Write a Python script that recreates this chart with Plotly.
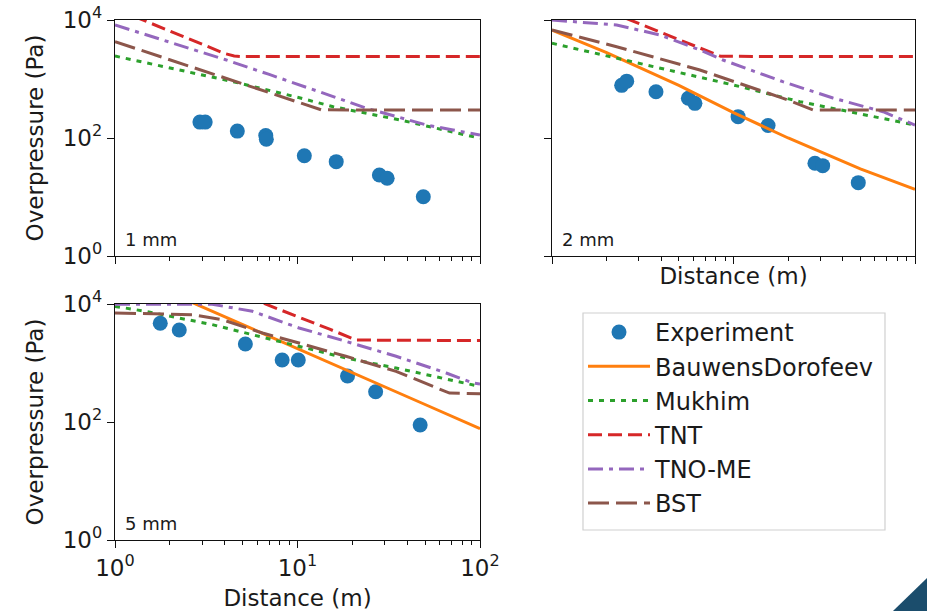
import plotly.graph_objects as go

# ---------------- data ----------------
# Panel 1 (1 mm)
exp1_x = [2.92, 3.12, 4.68, 6.7, 6.75, 10.9, 16.3, 28.1, 31.0, 48.9]
exp1_y = [186, 186, 131, 110, 95, 50, 39.7, 23.6, 20.8, 10.1]
muk1_x = [1, 2, 4.45, 10, 15.7, 36.5, 70, 100]
muk1_y = [2450, 1540, 900, 490, 339, 202, 127, 99]
tnt1_x = [1, 1.5, 2, 3, 4, 4.5, 5, 100]
tnt1_y = [15600, 9330, 6490, 3900, 2700, 2450, 2400, 2400]
tno1_x = [1, 2, 4, 7, 10, 15, 24, 35, 51, 70, 100]
tno1_y = [8230, 4200, 2140, 1195, 822, 528, 318, 230, 166, 138, 112]
bst1_x = [1, 2, 4, 8, 13.5, 100]
bst1_y = [4300, 2100, 1040, 510, 300, 298]

# Panel 2 (2 mm)
exp2_x = [2.42, 2.58, 3.74, 5.64, 6.13, 10.6, 15.5, 28.1, 31.0, 48.7]
exp2_y = [780, 920, 609, 471, 387, 230, 163, 37.3, 34, 17.5]
bd2_x = [1, 2, 5, 10, 20, 50, 100]
bd2_y = [6760, 2800, 780, 270, 100, 30, 13.5]
muk2_x = [1, 2.27, 5.28, 10, 23.2, 43.9, 100]
muk2_y = [4030, 2240, 1250, 791, 413, 279, 166]
tnt2_x = [1, 2.7, 5, 7.5, 8.5, 100]
tnt2_y = [34000, 10000, 4640, 2800, 2420, 2400]
tno2_x = [1, 2.27, 3.94, 6.53, 8.75, 18.7, 35.3, 66.7, 100]
tno2_y = [10000, 8230, 5570, 3100, 2100, 900, 476, 279, 166]
bst2_x = [1, 2.27, 6.53, 18.8, 27.5, 100]
bst2_y = [6760, 3530, 1420, 471, 298, 298]

# Panel 3 (5 mm)
exp3_x = [1.77, 2.25, 5.18, 8.24, 10.1, 18.8, 26.8, 47]
exp3_y = [4710, 3625, 2100, 1125, 1125, 603, 326, 89]
bd3_x = [1, 2, 5, 10, 20, 50, 100]
bd3_y = [39600, 15500, 4580, 1750, 684, 198, 77]
muk3_x = [1, 1.47, 2.24, 3.41, 7.29, 18.4, 34.7, 91.6, 100]
muk3_y = [9120, 7520, 5790, 4470, 2480, 1215, 822, 419, 400]
tnt3_x = [1, 3, 6.7, 10, 15, 21, 100]
tnt3_y = [100000, 26700, 10000, 6140, 3740, 2450, 2400]
tno3_x = [1, 3.41, 5.66, 10.2, 18.4, 34.7, 65.3, 91.6, 100]
tno3_y = [9900, 9900, 7520, 3920, 2330, 1300, 677, 458, 440]
bst3_x = [1, 2.65, 3.87, 6.43, 10.2, 18.4, 34.7, 55.2, 68.1, 100]
bst3_y = [7040, 6590, 5420, 3220, 2180, 1300, 723, 403, 309, 300]

panel_labels = ["1 mm", "2 mm", "5 mm"]
x_ticks = [1, 10, 100]
x_ticktext = ["10<sup>0</sup>", "10<sup>1</sup>", "10<sup>2</sup>"]
x_minor = [2, 3, 4, 5, 6, 7, 8, 9, 20, 30, 40, 50, 60, 70, 80, 90]
y_ticks = [1, 100, 10000]
y_ticktext = ["10<sup>0</sup>", "10<sup>2</sup>", "10<sup>4</sup>"]

# ---------------- styles ----------------
FONT = "DejaVu Sans"
C_EXP = "#1f77b4"
STY = {
    "BauwensDorofeev": dict(color="#ff7f0e", dash="solid", rank=2),
    "Mukhim": dict(color="#2ca02c", dash="5px,6px", rank=3),
    "TNT": dict(color="#d62728", dash="14px,6px", rank=4),
    "TNO-ME": dict(color="#9467bd", dash="15px,6px,4px,6px", rank=5),
    "BST": dict(color="#8c564b", dash="21px,7px", rank=6),
}

panels = [
    dict(xa="x", ya="y", exp=(exp1_x, exp1_y),
         models=[("Mukhim", muk1_x, muk1_y), ("TNT", tnt1_x, tnt1_y),
                 ("TNO-ME", tno1_x, tno1_y), ("BST", bst1_x, bst1_y)]),
    dict(xa="x2", ya="y2", exp=(exp2_x, exp2_y),
         models=[("BauwensDorofeev", bd2_x, bd2_y), ("Mukhim", muk2_x, muk2_y),
                 ("TNT", tnt2_x, tnt2_y), ("TNO-ME", tno2_x, tno2_y),
                 ("BST", bst2_x, bst2_y)]),
    dict(xa="x3", ya="y3", exp=(exp3_x, exp3_y),
         models=[("BauwensDorofeev", bd3_x, bd3_y), ("Mukhim", muk3_x, muk3_y),
                 ("TNT", tnt3_x, tnt3_y), ("TNO-ME", tno3_x, tno3_y),
                 ("BST", bst3_x, bst3_y)]),
]

fig = go.Figure()
for i, p in enumerate(panels):
    show = (i == 2)
    fig.add_trace(go.Scatter(
        x=p["exp"][0], y=p["exp"][1], mode="markers", name="Experiment",
        marker=dict(color=C_EXP, size=15), xaxis=p["xa"], yaxis=p["ya"],
        showlegend=show, legendgroup="Experiment", legendrank=1))
    for name, mx, my in p["models"]:
        s = STY[name]
        fig.add_trace(go.Scatter(
            x=mx, y=my, mode="lines", name=name,
            line=dict(color=s["color"], dash=s["dash"], width=3),
            xaxis=p["xa"], yaxis=p["ya"], showlegend=show,
            legendgroup=name, legendrank=s["rank"]))

W, H = 927, 611
dom_x_left = [115 / W, 480 / W]
dom_x_right = [552 / W, 915 / W]
dom_y_top = [1 - 256 / H, 1 - 20 / H]
dom_y_bot = [1 - 540 / H, 1 - 304 / H]

tickfont = dict(family=FONT, size=23, color="#1a1a1a")
titlefont = dict(family=FONT, size=23, color="#1a1a1a")


def xax(domain, anchor, labels, title, standoff=4):
    d = dict(type="log", range=[0, 2], domain=domain, anchor=anchor,
             automargin=False,
             showline=True, linecolor="#111", linewidth=1.4, mirror=True,
             ticks="outside", ticklen=7, tickwidth=1.4, tickcolor="#111",
             tickvals=x_ticks, ticktext=x_ticktext, showticklabels=labels,
             tickfont=tickfont, showgrid=False, zeroline=False,
             minor=dict(tickvals=x_minor, ticks="outside", ticklen=4,
                        tickwidth=1.1, tickcolor="#111", showgrid=False))
    if title:
        d["title"] = dict(text="Distance (m)", font=titlefont, standoff=standoff)
    return d


def yax(domain, anchor, labels, title):
    d = dict(type="log", range=[0, 4], domain=domain, anchor=anchor,
             automargin=False,
             showline=True, linecolor="#111", linewidth=1.4, mirror=True,
             ticks="outside", ticklen=7, tickwidth=1.4, tickcolor="#111",
             tickvals=y_ticks, ticktext=y_ticktext, showticklabels=labels,
             tickfont=tickfont, showgrid=False, zeroline=False)
    if title:
        d["title"] = dict(text="Overpressure (Pa)", font=titlefont, standoff=12)
    return d


# legend frame (matplotlib-like box)
LEG_X0, LEG_X1, LEG_Y0, LEG_Y1 = 583, 885, 313, 530

fig.update_layout(
    width=W, height=H, autosize=False,
    margin=dict(l=0, r=0, t=0, b=0, pad=0, autoexpand=False),
    paper_bgcolor="white", plot_bgcolor="white",
    font=dict(family=FONT, color="#1a1a1a"),
    xaxis=xax(dom_x_left, "y", False, False),
    yaxis=yax(dom_y_top, "x", True, True),
    xaxis2=xax(dom_x_right, "y2", False, True, 4),
    yaxis2=yax(dom_y_top, "x2", False, False),
    xaxis3=xax(dom_x_left, "y3", True, True, 10),
    yaxis3=yax(dom_y_bot, "x3", True, True),
    legend=dict(x=LEG_X0 / W, y=1 - 310 / H, xanchor="left", yanchor="top",
                bgcolor="rgba(0,0,0,0)", borderwidth=0,
                font=dict(family=FONT, size=24, color="#1a1a1a"),
                itemwidth=62, tracegroupgap=2, traceorder="normal"),
    showlegend=True,
)

fig.add_shape(type="rect", xref="paper", yref="paper",
              x0=LEG_X0 / W, x1=LEG_X1 / W, y0=1 - LEG_Y1 / H, y1=1 - LEG_Y0 / H,
              line=dict(color="#d0d0d0", width=1.2), fillcolor="white", layer="below")

for p, lab in zip(panels, panel_labels):
    fig.add_annotation(text=lab, xref=p["xa"] + " domain", yref=p["ya"] + " domain",
                       x=0.022, y=0.015, xanchor="left", yanchor="bottom",
                       showarrow=False, font=dict(family=FONT, size=18, color="#1a1a1a"))

# slide decoration in the bottom-right corner
fig.add_shape(type="path", xref="paper", yref="paper",
              path=f"M {893 / W} 0 L 1 {1 - 578 / H} L 1 0 Z",
              fillcolor="#1b4d6c", line=dict(width=0))

fig.write_html("out.html", config={"displayModeBar": False},
               post_script="document.body.style.margin='0';document.body.style.padding='0';")
